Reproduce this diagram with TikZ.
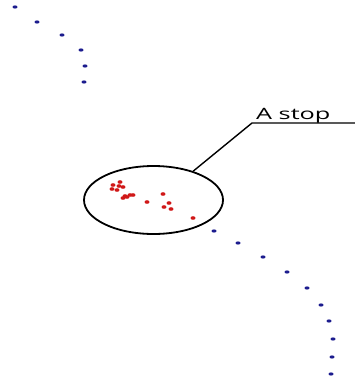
\documentclass[tikz,border=0pt]{standalone}
\usepackage{fontspec}
\setmainfont{Open Sans}
\usetikzlibrary{shapes.geometric}
\definecolor{trackblue}{HTML}{1C1C8E}
\definecolor{stopred}{HTML}{D01818}
\tikzset{
  trackdot/.style={fill=trackblue, draw=none, ellipse, minimum width=5pt, minimum height=3.2pt, inner sep=0pt},
  stopdot/.style={fill=stopred, draw=none, ellipse, minimum width=5pt, minimum height=3.6pt, inner sep=0pt},
  lens/.style={draw=black, line width=1.8pt, ellipse, minimum width=139pt, minimum height=68pt, inner sep=0pt},
  leader/.style={draw=black, line width=1.4pt},
  tag/.style={font=\fontsize{15.6}{16}\selectfont, inner sep=0pt, anchor=base west}
}
\begin{document}
\begin{tikzpicture}[x=1pt, y=-1pt]
  \useasboundingbox (0,0) rectangle (355,383);
  % track points before the stop
  \foreach \px/\py [count=\i] in {15/7, 37/22, 62/35, 81/50, 85/66, 84/82}
    \node[trackdot] (a\i) at (\px,\py) {};
  % track points after the stop
  \foreach \px/\py [count=\i] in {214/231, 238/243, 263/257, 287/272, 307/288, 321/305, 329/321, 333/339, 332/357, 331/374}
    \node[trackdot] (b\i) at (\px,\py) {};
  % clustered points at the stop
  \foreach \px/\py [count=\i] in {120/182, 113/185, 119/186, 123/187, 112/189, 117/190, 125/196, 123/198, 127/197, 130/195, 133/195, 147/202, 163/194, 169/203, 164/207, 171/209, 193/218}
    \node[stopdot] (s\i) at (\px,\py) {};
  % ring around the stop and its label
  \node[lens] (circ) at (153.5,200) {};
  \coordinate (knee) at (252,123);
  \coordinate (tail) at (355,123);
  \node[tag] (lbl) at (256,119) {\scalebox{1.62}[1]{A stop}};
  \draw[leader] (circ.36) -- (knee) -- (tail);
\end{tikzpicture}
\end{document}
